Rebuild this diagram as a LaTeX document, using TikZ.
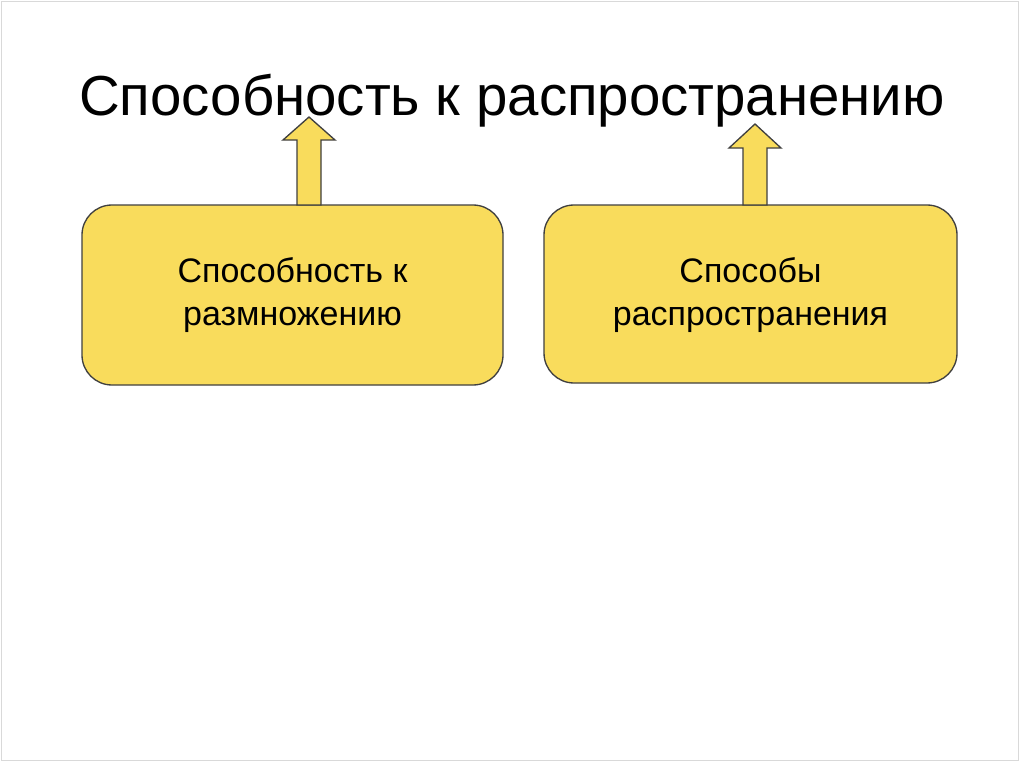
\documentclass[tikz,border=0pt]{standalone}
\usepackage{fontspec}
\setmainfont{Liberation Sans}
\begin{document}
\begin{tikzpicture}[x=0.75pt,y=-0.75pt,
  box/.style={draw=black!75,line width=1pt,fill=boxy,rounded corners=22.5pt},
  arr/.style={draw=black!75,line width=1pt,fill=boxy},
  lbl/.style={font=\fontsize{25.5}{32}\selectfont,align=center}]
\definecolor{boxy}{HTML}{F9DC5C}
\useasboundingbox (0,0) rectangle (1024,767);
\fill[white] (0,0) rectangle (1024,767);
\draw[black!15] (1,1) rectangle (1018,760);
\node[font=\fontsize{42.3}{50}\selectfont] (title) at (512,101) {Способность к распространению};
\draw[box] (82,205) rectangle (503,385);
\draw[box] (544,205) rectangle (957,383);
\node[lbl] (a) at (292.5,295) {Способность к\\размножению};
\node[lbl] (b) at (750.5,295) {Способы\\распространения};
\draw[arr] (297,205) -- (297,140) -- (283,140) -- (309,117) -- (335,140) -- (321,140) -- (321,205) -- cycle;
\draw[arr] (743,205) -- (743,148) -- (729,148) -- (755,124) -- (781,148) -- (767,148) -- (767,205) -- cycle;
\end{tikzpicture}
\end{document}
